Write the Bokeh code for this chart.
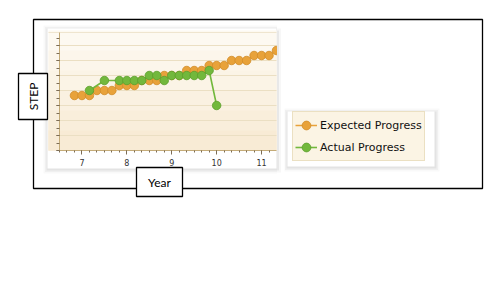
from math import pi
from bokeh.plotting import figure
from bokeh.models import (Range1d, Label, Legend, LegendItem, LinearAxis,
                          SingleIntervalTicker, CustomJSTickFormatter)
from bokeh.embed import file_html
from bokeh.resources import INLINE

# ---- data ----
years_expected = [6.833, 7.0, 7.167, 7.333, 7.5, 7.667, 7.833, 8.0, 8.167,
                  8.333, 8.5, 8.667, 8.833, 9.0, 9.167, 9.333, 9.5, 9.667,
                  9.833, 10.0, 10.167, 10.333, 10.5, 10.667, 10.833, 11.0,
                  11.167, 11.333]
step_expected = [11, 11, 11, 12, 12, 12, 13, 13, 13, 14, 14, 14, 15, 15, 15,
                 16, 16, 16, 17, 17, 17, 18, 18, 18, 19, 19, 19, 20]
years_actual = [7.167, 7.5, 7.833, 8.0, 8.167, 8.333, 8.5, 8.667, 8.833, 9.0,
                9.167, 9.333, 9.5, 9.667, 9.833, 10.0]
step_actual = [12, 14, 14, 14, 14, 14, 15, 15, 14, 15, 15, 15, 15, 15, 16, 9]
series_names = ["Expected Progress", "Actual Progress"]
axis_titles = ["Year", "STEP"]
x_limits = (6.5, 11.333)
y_limits = (0, 23.6)
step_grid = [3, 6, 9, 12, 15, 18, 21]

# ---- layout (canvas pixels, y downward) ----
W, H = 500, 281
PL, PR, PT, PB = 59, 276, 32, 150          # inner plot region

p = figure(width=W, height=H, output_backend="svg", toolbar_location=None,
           x_range=Range1d(0, W), y_range=Range1d(H, 0),
           x_axis_location=None, y_axis_location=None,
           min_border=0, outline_line_color=None,
           background_fill_color="white", border_fill_color="white")
p.xgrid.visible = False
p.ygrid.visible = False

# chart ranges mapped onto the inner region
kx = (x_limits[1] - x_limits[0]) / (PR - PL)
ky = (y_limits[1] - y_limits[0]) / (PB - PT)
p.extra_x_ranges = {"yr": Range1d(x_limits[0] - PL * kx,
                                  x_limits[1] + (W - PR) * kx)}
p.extra_y_ranges = {"st": Range1d(y_limits[0] - (H - PB) * ky,
                                  y_limits[1] + PT * ky)}


def quad(l, t, r, b, fill=None, alpha=1.0, line=None, lw=1.0):
    p.quad(left=[l], right=[r], top=[t], bottom=[b], fill_color=fill,
           fill_alpha=alpha, line_color=line, line_width=lw)


def shadow(l, t, r, b):
    for d, a in [(5, 0.025), (3.5, 0.035), (2, 0.05)]:
        quad(l - d + 1, t - d + 2, r + d, b + d, fill="black", alpha=a)
    quad(l, t, r, b, fill="white")


# chart panel
shadow(47, 28, PR, 168)
grad = ["#fdf9f1", "#fcf6eb", "#fbf4e6", "#faf1e1", "#f9eedb", "#f8ebd5"]
for i, c in enumerate(grad):
    quad(48, 30 + i * 20, PR, PB, fill=c)
p.segment(x0=[48], x1=[PR], y0=[PT], y1=[PT], line_color="#efe5cf",
          line_width=1)

# legend panel
shadow(287, 111, 434, 166)

# grid lines
p.segment(x0=[x_limits[0]] * len(step_grid), x1=[x_limits[1]] * len(step_grid),
          y0=step_grid, y1=step_grid, line_color="#ebdfc3", line_width=1,
          x_range_name="yr", y_range_name="st")

# series
orange, orange_edge = "#e8a23a", "#d08b28"
green, green_edge = "#72b83c", "#5c9e2c"
l1 = p.line(years_expected, step_expected, line_color=orange, line_width=1.5,
            x_range_name="yr", y_range_name="st")
s1 = p.scatter(years_expected, step_expected, size=8.5, fill_color=orange,
               line_color=orange_edge, line_width=0.8,
               x_range_name="yr", y_range_name="st")
l2 = p.line(years_actual, step_actual, line_color=green, line_width=1.6,
            x_range_name="yr", y_range_name="st")
s2 = p.scatter(years_actual, step_actual, size=8.5, fill_color=green,
               line_color=green_edge, line_width=0.8,
               x_range_name="yr", y_range_name="st")

# cover overflow beyond the right edge of the plot region
quad(PR + 0.5, 22, PR + 8, 176, fill="white")
quad(PR + 0.5, 30, PR + 2.5, 170, fill="black", alpha=0.06)
quad(PR + 0.5, 28, PR + 4.5, 172, fill="black", alpha=0.03)

# axes
xa = LinearAxis(x_range_name="yr", y_range_name="st",
                fixed_location=y_limits[0], bounds=x_limits,
                ticker=SingleIntervalTicker(interval=1, num_minor_ticks=6))
xa.axis_line_color = "#c4ab78"
xa.major_tick_line_color = "#7d6d55"
xa.minor_tick_line_color = "#7d6d55"
xa.major_tick_in = 0
xa.major_tick_out = 4
xa.minor_tick_in = 0
xa.minor_tick_out = 2
xa.major_label_text_font = "DejaVu Sans"
xa.major_label_text_font_size = "8px"
xa.major_label_text_color = "#333333"
xa.major_label_standoff = 4
p.add_layout(xa, "below")

ya = LinearAxis(x_range_name="yr", y_range_name="st",
                fixed_location=x_limits[0], bounds=y_limits,
                ticker=SingleIntervalTicker(interval=3, num_minor_ticks=2),
                formatter=CustomJSTickFormatter(code="return ''"))
ya.axis_line_color = "#c4ab78"
ya.major_tick_line_color = "#7d6d55"
ya.minor_tick_line_color = "#7d6d55"
ya.major_tick_in = 0
ya.major_tick_out = 3
ya.minor_tick_in = 0
ya.minor_tick_out = 3
ya.major_label_text_font_size = "8px"
p.add_layout(ya, "left")

# outer frame and title boxes
quad(33, 19, 482, 188, fill=None, line="black", lw=1.3)
quad(18, 73, 47, 119, fill="white", line="black", lw=1.3)
quad(136, 167, 182, 196, fill="white", line="black", lw=1.3)

p.add_layout(Label(x=33, y=96, text=axis_titles[1], angle=pi / 2,
                   text_align="center", text_baseline="middle",
                   text_font="Lato", text_font_size="12px",
                   text_color="black"))
p.add_layout(Label(x=159, y=181.5, text=axis_titles[0], text_align="center",
                   text_baseline="middle", text_font="Lato",
                   text_font_size="12px", text_color="black"))

legend = Legend(items=[LegendItem(label=series_names[0], renderers=[l1, s1]),
                       LegendItem(label=series_names[1], renderers=[l2, s2])],
                location=(292, H - 161))
legend.background_fill_color = "#fbf4e4"
legend.background_fill_alpha = 1.0
legend.border_line_color = "#dccb9f"
legend.label_text_font = "DejaVu Sans"
legend.label_text_font_size = "11px"
legend.label_text_color = "#111111"
legend.glyph_width = 22
legend.glyph_height = 22
legend.label_height = 22
legend.label_standoff = 3
legend.spacing = -2
legend.padding = 2
legend.margin = 0
p.add_layout(legend)

open("out.html", "w").write(file_html(p, INLINE))
